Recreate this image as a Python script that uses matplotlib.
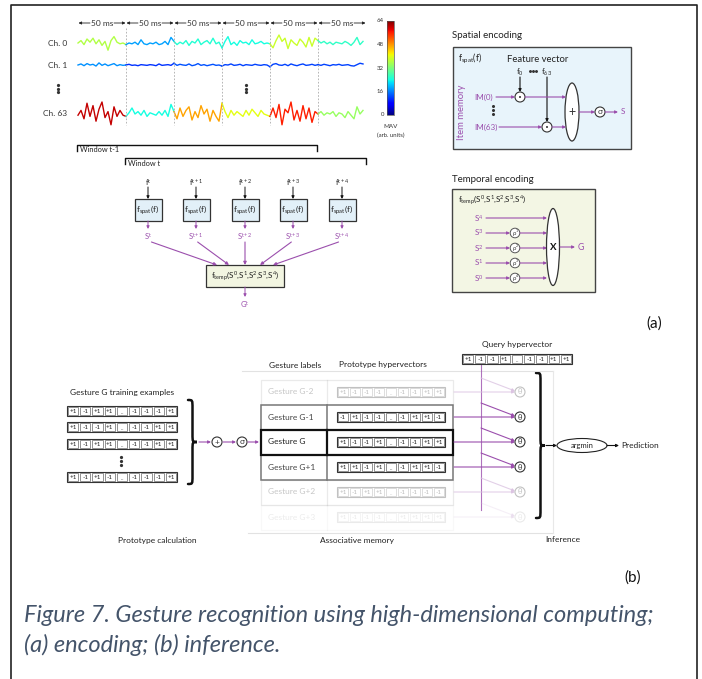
import numpy as np
import matplotlib
matplotlib.use('Agg')
import matplotlib.pyplot as plt
from matplotlib.patches import Rectangle, Circle, Ellipse, PathPatch
from matplotlib.path import Path

plt.rcParams['font.family'] = ['Lato', 'DejaVu Sans']
plt.rcParams['mathtext.fontset'] = 'custom'
plt.rcParams['mathtext.rm'] = 'Lato'
plt.rcParams['mathtext.it'] = 'Lato:italic'
plt.rcParams['mathtext.bf'] = 'Lato:bold'

W, H = 702, 679
PURPLE = '#9b4fad'
PURPLE_LIGHT = '#d9c0e0'
DARK = '#333333'

# ---------------- data ----------------
CHANNEL_LABELS = ['Ch. 0', 'Ch. 1', 'Ch. 63']
SEGMENT_LABEL = '50 ms'
N_SEG = 6
PTS_PER_SEG = 16

# mean absolute value of each 50 ms segment (colour of the trace)
MAV_CH0 = [36, 18, 25, 24, 38, 26]
MAV_CH1 = [17, 11, 13, 12, 12, 12]
MAV_CH63 = [60, 24, 47, 40, 56, 34]

# raw traces (normalised, + is up)
SIG_CH0 = [0.0, 0.3, -0.2, 0.5, 0.1, 0.6, -0.1, 0.4, -0.3, 0.2, -0.9, 0.3, 0.8, 0.1, -0.1, 0.0,
           -0.2, 0.0, -0.1, 0.1, -0.2, 0.4, -0.1, -0.2, 0.0, -0.1, 0.1, -0.2, -0.1, 0.2, -0.2, 0.7,
           0.2, -0.2, 0.1, -0.1, 0.3, -0.3, 0.2, 0.0, 0.5, -0.2, 0.1, 0.3, -0.1, 0.6, -0.1, 0.1,
           -0.6, 0.2, 0.8, -0.2, 0.1, -0.3, 0.3, 0.0, 0.1, -0.2, 0.4, -0.1, 0.0, 0.2, -0.1, 0.0,
           -0.1, -0.6, 0.3, 1.0, 0.2, 0.6, -0.7, 0.4, 0.0, -0.3, 0.5, 0.1, -0.5, 0.7, -0.4, 0.6,
           0.3, 0.0, 0.2, -0.1, 0.1, -0.2, 0.1, 0.0, -0.1, 0.2, 0.0, -0.3, 0.1, 0.7, -0.2, 0.2]
SIG_CH1 = [0.0, 0.3, -0.2, 0.4, 0.0, 0.2, -0.3, 0.6, -0.1, 0.3, -0.2, 0.1, 0.4, -0.2, 0.1, -0.1,
           0.0, 0.2, -0.1, 0.0, -0.2, 0.1, 0.0, -0.1, 0.1, 0.0, -0.2, 0.3, -0.1, 0.0, 0.1, -0.1,
           0.5, -0.1, 0.2, 0.0, -0.1, 0.3, -0.2, 0.0, 0.4, -0.1, 0.1, -0.2, 0.0, 0.2, -0.1, 0.0,
           -0.3, 0.1, 0.0, 0.3, -0.1, 0.0, 0.2, -0.2, 0.1, 0.0, -0.1, 0.2, 0.0, -0.1, 0.1, 0.0,
           -0.5, 0.2, 0.4, 0.0, -0.1, 0.2, -0.2, 0.3, 0.0, -0.2, 0.1, 0.3, -0.1, 0.0, 0.2, -0.1,
           0.1, -0.1, 0.2, 0.0, -0.2, 0.1, 0.0, 0.2, -0.1, 0.0, 0.1, -0.2, -0.3, 0.1, 0.5, 0.3]
SIG_CH63 = [-0.1, 0.3, -0.4, 0.9, -0.2, 0.7, -0.6, 0.4, 1.0, -0.3, 0.2, -0.9, 0.6, -0.2, 0.3, -0.1,
            -0.2, 0.1, 0.5, 0.0, 0.2, -0.1, 0.3, -0.2, 0.1, 0.0, -0.1, 0.2, -0.1, 0.3, -0.2, 0.8,
            0.2, -0.4, 0.5, -0.2, 0.3, 0.6, -0.5, 0.2, -0.3, 0.7, 0.0, 0.4, -0.6, 0.3, -0.2, -0.6,
            0.9, 0.2, -0.3, 0.3, -0.1, 0.2, 0.0, -0.2, 0.3, -0.1, 0.4, 0.1, -0.2, 0.3, 0.0, -0.1,
            -0.2, 0.5, -0.3, 0.8, -0.9, 0.4, 0.1, 1.0, -0.5, 0.3, -0.6, 0.7, -0.4, 0.5, -0.7, 0.2,
            0.0, 0.2, -0.1, 0.1, 0.0, 0.2, -0.2, 0.1, 0.0, -0.3, 0.2, -0.1, -0.4, 0.6, 0.0, 0.3]

CBAR_TICKS = [0, 16, 32, 48, 64]
WINDOW_LABELS = ['Window t-1', 'Window t']
FRAME_TIMES = ['t', 't+1', 't+2', 't+3', 't+4']
TEMP_INPUTS = ['4', '3', '2', '1', '0']
TEMP_PERMS = [None, '1', '2', '3', '4']

TRAINING_EXAMPLES = [
    ['+1', '-1', '+1', '+1', '...', '-1', '-1', '-1', '+1'],
    ['+1', '-1', '-1', '+1', '...', '-1', '-1', '+1', '+1'],
    ['+1', '-1', '+1', '+1', '...', '-1', '-1', '+1', '+1'],
    ['+1', '-1', '+1', '-1', '...', '-1', '-1', '-1', '+1'],
]
GESTURE_LABELS = ['Gesture G-2', 'Gesture G-1', 'Gesture G', 'Gesture G+1', 'Gesture G+2', 'Gesture G+3']
PROTOTYPES = [
    ['+1', '-1', '-1', '-1', '...', '-1', '-1', '+1', '+1'],
    ['-1', '+1', '-1', '-1', '...', '-1', '+1', '+1', '-1'],
    ['+1', '-1', '-1', '+1', '...', '-1', '-1', '+1', '+1'],
    ['+1', '+1', '-1', '+1', '...', '-1', '+1', '+1', '-1'],
    ['+1', '-1', '+1', '+1', '...', '-1', '-1', '-1', '-1'],
    ['+1', '-1', '-1', '-1', '...', '+1', '+1', '+1', '+1'],
]
ROW_ALPHA = [0.3, 1.0, 1.0, 1.0, 0.3, 0.1]
QUERY = ['+1', '-1', '-1', '+1', '...', '-1', '-1', '+1', '+1']

CAPTION = ['Figure 7. Gesture recognition using high-dimensional computing;',
           '(a) encoding; (b) inference.']

# ---------------- helpers ----------------
fig = plt.figure(figsize=(W / 100, H / 100), dpi=100)
ax = fig.add_axes([0, 0, 1, 1])
ax.axis('off')


def arrow(x0, y0, x1, y1, color=DARK, lw=0.8, ms=5, alpha=1.0):
    ax.annotate('', xy=(x1, y1), xytext=(x0, y0),
                arrowprops=dict(arrowstyle='-|>', color=color, lw=lw, mutation_scale=ms,
                                shrinkA=0, shrinkB=0, alpha=alpha))


def txt(x, y, s, size=6, color='#222222', ha='center', va='center', **kw):
    return ax.text(x, y, s, fontsize=size, color=color, ha=ha, va=va, **kw)


def dots(x, y0, y1, horizontal=False, ms=1.3):
    pos = [y0, (y0 + y1) / 2, y1]
    if horizontal:
        ax.plot(pos, [x] * 3, 'o', ms=ms, color='#333333')
    else:
        ax.plot([x] * 3, pos, 'o', ms=ms, color='#333333')


def circle_op(x, y, sym, r=5, alpha=1.0, size=6, lw=0.8):
    ax.add_patch(Circle((x, y), r, fc='white', ec=DARK, lw=lw, alpha=alpha, zorder=3))
    if sym == 'dot':
        ax.add_patch(Circle((x, y), 1.0, fc=DARK, ec='none', alpha=alpha, zorder=4))
    else:
        txt(x, y, sym, size=size, color=DARK, alpha=alpha, zorder=4)


def draw_vector(x0, yc, values, alpha=1.0, w=110, h=10, lw=0.8):
    cw = w / len(values)
    ax.add_patch(Rectangle((x0, yc - h / 2), w, h, fill=False, ec=DARK, lw=lw, alpha=alpha, zorder=3))
    for i, v in enumerate(values):
        ax.add_patch(Rectangle((x0 + i * cw + 1.0, yc - h / 2 + 1.3), cw - 2.0, h - 2.6,
                               fc='white', ec='#666666', lw=0.5, alpha=alpha, zorder=3))
        if v == '...':
            txt(x0 + (i + 0.5) * cw, yc + 1.5, '...', size=3.5, color='#444444', alpha=alpha, zorder=4)
        else:
            txt(x0 + (i + 0.5) * cw, yc + 0.3, v, size=4.6, color='#222222', alpha=alpha, zorder=4)


def brace(x, y0, y1, w, lw=1.8):
    ym = (y0 + y1) / 2
    q = w * 0.9
    xm = x + w / 2
    verts = [(x, y0), (xm, y0), (xm, y0), (xm, y0 + q),
             (xm, ym - q),
             (xm, ym), (xm, ym), (x + w, ym),
             (xm, ym), (xm, ym), (xm, ym + q),
             (xm, y1 - q),
             (xm, y1), (xm, y1), (x, y1)]
    codes = [Path.MOVETO, Path.CURVE4, Path.CURVE4, Path.CURVE4,
             Path.LINETO,
             Path.CURVE4, Path.CURVE4, Path.CURVE4,
             Path.CURVE4, Path.CURVE4, Path.CURVE4,
             Path.LINETO,
             Path.CURVE4, Path.CURVE4, Path.CURVE4]
    ax.add_patch(PathPatch(Path(verts, codes), fc='none', ec='#111111', lw=lw, capstyle='round'))


# ---------------- frame ----------------
ax.plot([11, 11, 697, 697], [H + 5, 5, 5, H + 5], color='#222222', lw=1.2)

# ---------------- (a) raw signals ----------------
cmap = plt.get_cmap('jet')
SIG_X0, SEG_W = 78, 48
sig_x = SIG_X0 + np.arange(N_SEG * PTS_PER_SEG) * SEG_W / PTS_PER_SEG
channels = [(43, 8, SIG_CH0, MAV_CH0), (65, 3.5, SIG_CH1, MAV_CH1), (114, 12, SIG_CH63, MAV_CH63)]
for (base, amp, sig, mav), lab in zip(channels, CHANNEL_LABELS):
    y = base - amp * np.array(sig)
    for k in range(N_SEG):
        sl = slice(k * PTS_PER_SEG, min((k + 1) * PTS_PER_SEG + 1, len(sig)))
        ax.plot(sig_x[sl], y[sl], color=cmap(mav[k] / 64), lw=1.0, solid_joinstyle='round')
    txt(67, base, lab, size=6, ha='right', color='#333333')

for k in range(1, N_SEG):
    xb = SIG_X0 + k * SEG_W
    ax.plot([xb, xb], [28, 125], color='#aaaaaa', lw=0.6, ls=(0, (2, 2)))

for k in range(N_SEG):
    xl, xr = SIG_X0 + k * SEG_W, SIG_X0 + (k + 1) * SEG_W
    xc = (xl + xr) / 2
    txt(xc, 23, SEGMENT_LABEL, size=6, color='#333333')
    arrow(xc - 12, 23, xl + 0.5, 23, color='#222222', lw=0.6, ms=4)
    arrow(xc + 12, 23, xr - 0.5, 23, color='#222222', lw=0.6, ms=4)

for xd in (58, 246):
    dots(xd, 85, 92)

# colour bar
grad = np.linspace(0, 1, 256).reshape(-1, 1)
CB_L, CB_R, CB_B, CB_T = 387, 394, 115, 21
ax.imshow(grad, cmap='jet', extent=(CB_L, CB_R, CB_B, CB_T), origin='lower', aspect='auto', zorder=2)
ax.add_patch(Rectangle((CB_L, CB_T), CB_R - CB_L, CB_B - CB_T, fill=False, ec='#555555', lw=0.5, zorder=3))
for v in CBAR_TICKS:
    txt(384, CB_B - v / 64 * (CB_B - CB_T), str(v), size=4.3, ha='right', color='#333333')
txt(391, 127, 'MAV', size=4.5, color='#333333')
txt(391, 135, '(arb. units)', size=4.3, color='#333333')

# windows
for (x0, x1, yl), lab in zip([(77, 317, 145), (125, 366, 158)], WINDOW_LABELS):
    ax.plot([x0, x0, x1, x1], [yl + 6, yl, yl, yl + 6], color='#111111', lw=1.0)
    txt(x0 + 3, yl + 5, lab, size=5.3, ha='left', color='#222222')

# spatial encoders per frame
FR_X = [148, 196, 245, 293, 342]
TEMP_TARGETS = [217, 229, 245, 260, 273]
for cx, tstr, tx in zip(FR_X, FRAME_TIMES, TEMP_TARGETS):
    txt(cx, 182, r'f$^{\mathrm{%s}}$' % tstr, size=5.5)
    arrow(cx, 187, cx, 199, color='#111111', lw=0.7, ms=4)
    ax.add_patch(Rectangle((cx - 13.5, 199), 27, 22, fc='#e2f0f8', ec=DARK, lw=0.9))
    txt(cx, 210, r'f$_{\mathrm{spat}}$(f)', size=6)
    arrow(cx, 221, cx, 229, color=PURPLE, lw=0.7, ms=4)
    txt(cx, 236, r'S$^{\mathrm{%s}}$' % tstr, size=5.5, color=PURPLE)
    arrow(cx + (tx - cx) * 0.05, 242, tx, 265, color=PURPLE, lw=0.8, ms=4.5)

ax.add_patch(Rectangle((206, 265), 78, 22, fc='#f2f5e1', ec=DARK, lw=0.9))
txt(245, 276, r'f$_{\mathrm{temp}}$(S$^{0}$,S$^{1}$,S$^{2}$,S$^{3}$,S$^{4}$)', size=5.8)
arrow(245, 287, 245, 297, color=PURPLE, lw=0.7, ms=4)
txt(245, 304, r'G$^{\mathrm{t}}$', size=5.5, color=PURPLE)

# spatial encoding detail
txt(452, 35, 'Spatial encoding', size=7, ha='left', color='#222222')
ax.add_patch(Rectangle((453, 47), 178, 102, fc='#e8f4fb', ec='#444444', lw=1.0))
txt(458, 59, r'f$_{\mathrm{spat}}$(f)', size=6.3, ha='left')
txt(538, 60, 'Feature vector', size=6.8)
txt(520, 72, r'f$_{0}$', size=5.8)
dots(71, 530, 536, horizontal=True, ms=1.1)
txt(547, 72, r'f$_{63}$', size=5.8)
arrow(520, 77, 520, 92, color='#111111', lw=0.8, ms=4)
arrow(547, 77, 547, 122, color='#111111', lw=0.8, ms=4)
txt(484, 97, 'IM(0)', size=5.8, color=PURPLE)
txt(486, 127, 'IM(63)', size=5.8, color=PURPLE)
dots(493, 106, 114, ms=1.2)
arrow(496, 97, 515, 97, color=PURPLE, lw=0.8, ms=4)
arrow(499, 127, 542, 127, color=PURPLE, lw=0.8, ms=4)
circle_op(520, 97, 'dot')
circle_op(547, 127, 'dot')
arrow(525, 97, 566, 97, color=PURPLE, lw=0.8, ms=4)
arrow(552, 127, 566, 127, color=PURPLE, lw=0.8, ms=4)
ax.add_patch(Ellipse((572, 112), 14, 58, fc='white', ec=DARK, lw=0.9))
txt(572, 112, '+', size=9, color=DARK)
arrow(579, 112, 595, 112, color=PURPLE, lw=0.8, ms=4)
circle_op(600, 112, 'σ', size=6)
arrow(605, 112, 618, 112, color=PURPLE, lw=0.8, ms=4)
txt(621, 112, 'S', size=5.8, color=PURPLE, ha='left')
txt(462, 112, 'Item memory', size=6.8, color=PURPLE, rotation=90)

# temporal encoding detail
txt(452, 179, 'Temporal encoding', size=7, ha='left', color='#222222')
ax.add_patch(Rectangle((452, 189), 143, 103, fc='#f3f6e4', ec='#444444', lw=1.0))
txt(458, 200, r'f$_{\mathrm{temp}}$(S$^{0}$,S$^{1}$,S$^{2}$,S$^{3}$,S$^{4}$)', size=5.8, ha='left')
for i, (s, p) in enumerate(zip(TEMP_INPUTS, TEMP_PERMS)):
    yr = 218 + 15 * i
    txt(479, yr, r'S$^{%s}$' % s, size=5.8, color=PURPLE)
    if p is None:
        arrow(486, yr, 547, yr, color=PURPLE, lw=0.8, ms=4)
    else:
        arrow(486, yr, 510, yr, color=PURPLE, lw=0.8, ms=4)
        ax.add_patch(Circle((515, yr), 4.8, fc='white', ec='#555555', lw=0.7, zorder=3))
        txt(514.5, yr + 0.5, 'ρ', size=4.3, color='#333333', zorder=4)
        txt(516.8, yr - 1.8, p, size=2.6, color='#333333', zorder=4)
        arrow(520, yr, 547, yr, color=PURPLE, lw=0.8, ms=4)
ax.add_patch(Ellipse((553, 247), 13, 77, fc='white', ec=DARK, lw=0.9, zorder=3))
txt(553, 247, 'X', size=7, color='#111111', weight='bold', zorder=4)
arrow(560, 247, 575, 247, color=PURPLE, lw=0.8, ms=4)
txt(578, 247, 'G', size=6.3, color=PURPLE, ha='left')

txt(654, 324, '(a)', size=11, color='#111111')

# ---------------- (b) inference ----------------
txt(122, 392, 'Gesture G training examples', size=6)
for ex, yv in zip(TRAINING_EXAMPLES, [411, 427, 444, 477]):
    draw_vector(67, yv, ex)
dots(121, 457, 465)
brace(188, 400, 484, 9)
arrow(199, 442, 211, 442, color=PURPLE, lw=0.8, ms=4)
circle_op(217, 442, '+', size=6)
arrow(223, 442, 236, 442, color=PURPLE, lw=0.8, ms=4)
circle_op(242, 442, 'σ', size=6)
arrow(248, 442, 259, 442, color=PURPLE, lw=0.8, ms=4)

# associative memory table
txt(295, 365, 'Gesture labels', size=6)
txt(383, 365, 'Prototype hypervectors', size=6)
ax.plot([242, 553], [371, 371], color='#e2e2e2', lw=0.8)
ax.plot([248, 553], [533, 533], color='#e2e2e2', lw=0.8)
ax.plot([553, 553], [371, 533], color='#e8e8e8', lw=0.8)

ROW_Y0, ROW_H = 392, 25
TAB_L, TAB_M, TAB_R = 261, 327, 453
draw_order = [0, 5, 4, 1, 3, 2]
for i in draw_order:
    yc = ROW_Y0 + ROW_H * i
    a = ROW_ALPHA[i]
    if i == 2:
        ec, lw = '#111111', 1.6
    elif a == 1.0:
        ec, lw = '#777777', 1.1
    else:
        ec, lw = '#bbbbbb', 0.9
    ax.add_patch(Rectangle((TAB_L, yc - ROW_H / 2), TAB_R - TAB_L, ROW_H, fc='white', ec=ec, lw=lw,
                           alpha=a, zorder=2))
    ax.plot([TAB_M, TAB_M], [yc - ROW_H / 2, yc + ROW_H / 2], color=ec, lw=lw, alpha=a, zorder=2)
    tcol = '#222222' if i == 2 else '#444444'
    txt(268, yc, GESTURE_LABELS[i], size=6, ha='left', color=tcol, alpha=a)
    draw_vector(337, yc, PROTOTYPES[i], alpha=a, w=108)

# query & similarity
txt(517, 345, 'Query hypervector', size=6)
draw_vector(462, 359, QUERY)
QX, TH_X = 481, 520
ax.plot([QX, QX], [364, 510], color=PURPLE, lw=0.8, alpha=0.8)
for i in range(len(GESTURE_LABELS)):
    yc = ROW_Y0 + ROW_H * i
    a = ROW_ALPHA[i]
    col = PURPLE if a == 1.0 else PURPLE_LIGHT
    ca = 1.0 if a == 1.0 else min(1.0, a * 2.5)
    arrow(TAB_R + 1, yc, TH_X - 5, yc, color=col, lw=0.8, ms=4, alpha=ca)
    arrow(QX, yc - 14, TH_X - 5, yc - 1, color=col, lw=0.8, ms=4, alpha=ca)
    circle_op(TH_X, yc, 'θ', alpha=a, size=5.5)

brace(536, 373, 518, 9)
arrow(546, 445.5, 557, 445.5, color='#111111', lw=0.8, ms=4)
ax.add_patch(Ellipse((582, 445.5), 50, 14, fc='white', ec='#222222', lw=0.8))
txt(582, 445.5, 'argmin', size=5.5)
arrow(607, 445.5, 619, 445.5, color='#111111', lw=0.8, ms=4)
txt(621, 445.5, 'Prediction', size=6, ha='left')

txt(157, 540, 'Prototype calculation', size=6)
txt(357, 540, 'Associative memory', size=6)
txt(563, 540, 'Inference', size=6)

txt(633, 578, '(b)', size=11, color='#111111')

# caption, sized to the width it takes in the reference
cap = [txt(24, y, s, size=15, ha='left', color='#44546a', style='italic')
       for y, s in zip([615, 645], CAPTION)]
fig.canvas.draw()
bb = cap[0].get_window_extent(fig.canvas.get_renderer())
fs = 15 * 632 / bb.width
for t in cap:
    t.set_fontsize(fs)

ax.set_xlim(0, W)
ax.set_ylim(H, 0)
fig.savefig('out.png', dpi=100, facecolor='white')
